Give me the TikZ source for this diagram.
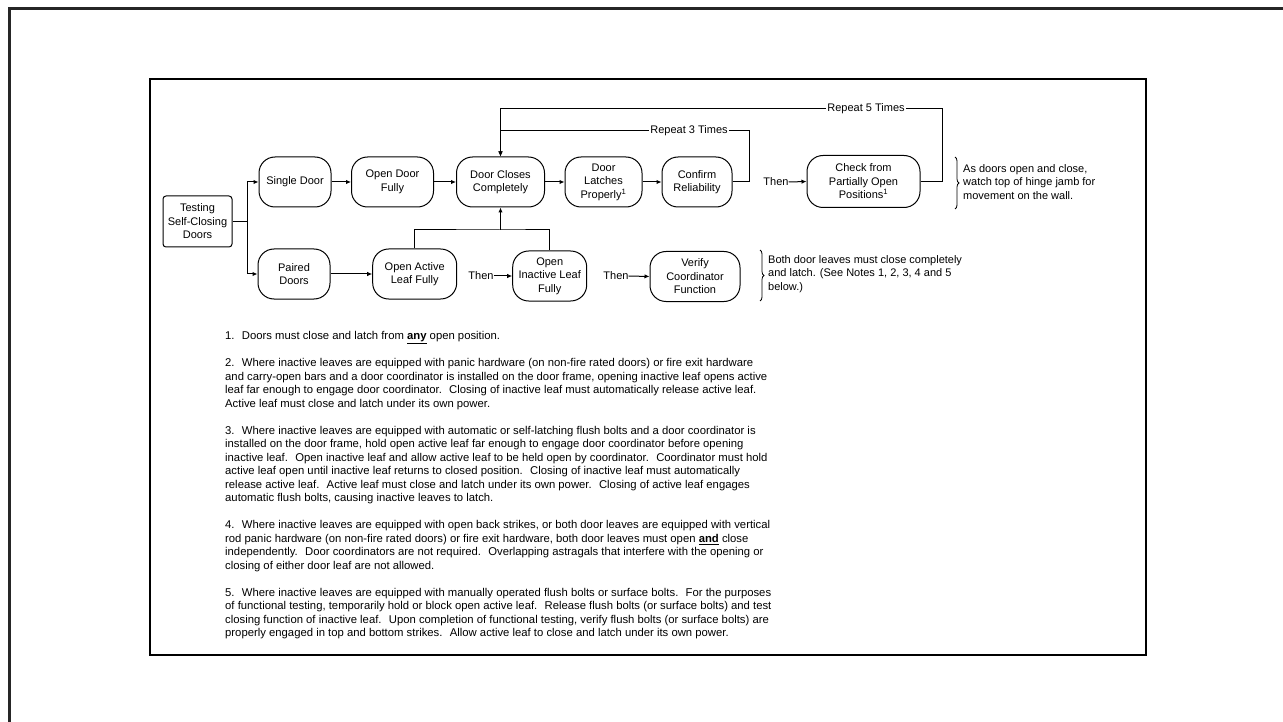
\documentclass[tikz,border=0pt]{standalone}
\usepackage{fontspec}
\setmainfont{Liberation Sans}
\usetikzlibrary{arrows.meta,decorations.pathreplacing}
\begin{document}
\begin{tikzpicture}[x=1pt,y=-1pt,
  every node/.style={font=\fontsize{11}{13.5}\selectfont, inner sep=0pt},
  sq/.style={draw, rounded corners=3pt, line width=1pt, align=center, minimum height=51pt},
  pill/.style={draw, rounded corners=16pt, line width=1pt, align=center, minimum height=50pt},
  arr/.style={line width=1pt, -{Latex[length=5pt,width=4.5pt]}},
  ln/.style={line width=1pt},
  lbl/.style={fill=white, inner xsep=1pt, inner ysep=1pt},
  br/.style={decorate, decoration={brace, amplitude=4pt}, line width=0.8pt},
  frame/.style={line width=1.2pt},
  notefont/.style={font=\fontsize{11.3}{13.5}\selectfont},
]
\useasboundingbox (0,0) rectangle (1283,722);
% outer frame (top and left edges)
\draw[line width=3pt, black!85] (9,722) -- (9,9) -- (1283,9);
% inner frame
\draw[frame] (150,79) rectangle (1146,655);

% top row
\node[sq, minimum width=69pt] (test) at (197.5,221.5) {Testing\\Self-Closing\\Doors};
\node[pill, minimum width=72pt] (single) at (295,182) {Single Door};
\node[pill, minimum width=82pt] (odf) at (392.5,182) {Open Door\\Fully};
\node[pill, minimum width=88pt] (dcc) at (500.5,182) {Door Closes\\Completely};
\node[pill, minimum width=77pt] (dlp) at (603.5,182) {Door\\Latches\\Properly\textsuperscript{1}};
\node[pill, minimum width=70pt] (cr) at (697,182) {Confirm\\Reliability};
\node (then1) at (776,182) {Then};
\node[pill, minimum width=113pt, minimum height=52pt] (chk) at (863.5,181.5) {Check from\\Partially Open\\Positions\textsuperscript{1}};

% bottom row
\node[pill, minimum width=72pt] (paired) at (294,274) {Paired\\Doors};
\node[pill, minimum width=84pt] (oal) at (414.7,274) {Open Active\\Leaf Fully};
\node (then2) at (481,276) {Then};
\node[pill, minimum width=74pt] (oil) at (549.7,276) {Open\\Inactive Leaf\\Fully};
\node (then3) at (616,276) {Then};
\node[pill, minimum width=90pt] (ver) at (695,276.5) {Verify\\Coordinator\\Function};

% connectors
\coordinate (split) at (247,221.5);
\draw[ln] (test.east) -- (split);
\draw[arr] (split) |- (single.west);
\draw[arr] (split) |- (paired.west);
\draw[arr] (single) -- (odf);
\draw[arr] (odf) -- (dcc);
\draw[arr] (dcc) -- (dlp);
\draw[arr] (dlp) -- (cr);
\draw[arr] (then1.east) -- (chk.west);
\draw[arr] (paired.east) -- (oal.west);
\draw[arr] (then2.east) -- (oil.west);
\draw[arr] (then3.east) -- (ver.west);

\coordinate (r3) at (749,131);
\coordinate (r5) at (942,109);
\draw[arr] (cr.east) -| (r3) -- (dcc.north |- r3) -- (dcc.north);
\draw[arr] (chk.east) -| (r5) -- (dcc.north |- r5) -- (dcc.north);
\node[lbl] (l3) at (689,131) {Repeat 3 Times};
\node[lbl] (l5) at (866,109) {Repeat 5 Times};

\coordinate (j) at (500.5,230);
\draw[ln] (oal.north) |- (j) -| (oil.north);
\draw[arr] (j) -- (dcc.south);

% braces and side notes
\draw[br] (955,157) -- (955,209);
\node[anchor=west, align=left] (n1) at (963,182) {As doors open and close,\\watch top of hinge jamb for\\movement on the wall.};
\draw[br] (760,250) -- (760,301);
\node[anchor=west, align=left] (n2) at (768,274) {Both door leaves must close completely\\and latch. (See Notes 1, 2, 3, 4 and 5\\below.)};

% notes
\node[notefont, anchor=north west, align=left] (notes) at (225,331.5) {%
1.~ Doors must close and latch from \textbf{\underline{any}} open position.\\[13.5pt]
2.~ Where inactive leaves are equipped with panic hardware (on non-fire rated doors) or fire exit hardware\\
and carry-open bars and a door coordinator is installed on the door frame, opening inactive leaf opens active\\
leaf far enough to engage door coordinator.~ Closing of inactive leaf must automatically release active leaf.\\
Active leaf must close and latch under its own power.\\[13.5pt]
3.~ Where inactive leaves are equipped with automatic or self-latching flush bolts and a door coordinator is\\
installed on the door frame, hold open active leaf far enough to engage door coordinator before opening\\
inactive leaf.~ Open inactive leaf and allow active leaf to be held open by coordinator.~ Coordinator must hold\\
active leaf open until inactive leaf returns to closed position.~ Closing of inactive leaf must automatically\\
release active leaf.~ Active leaf must close and latch under its own power.~ Closing of active leaf engages\\
automatic flush bolts, causing inactive leaves to latch.\\[13.5pt]
4.~ Where inactive leaves are equipped with open back strikes, or both door leaves are equipped with vertical\\
rod panic hardware (on non-fire rated doors) or fire exit hardware, both door leaves must open \textbf{\underline{and}} close\\
independently.~ Door coordinators are not required.~ Overlapping astragals that interfere with the opening or\\
closing of either door leaf are not allowed.\\[13.5pt]
5.~ Where inactive leaves are equipped with manually operated flush bolts or surface bolts.~ For the purposes\\
of functional testing, temporarily hold or block open active leaf.~ Release flush bolts (or surface bolts) and test\\
closing function of inactive leaf.~ Upon completion of functional testing, verify flush bolts (or surface bolts) are\\
properly engaged in top and bottom strikes.~ Allow active leaf to close and latch under its own power.};
\end{tikzpicture}
\end{document}
